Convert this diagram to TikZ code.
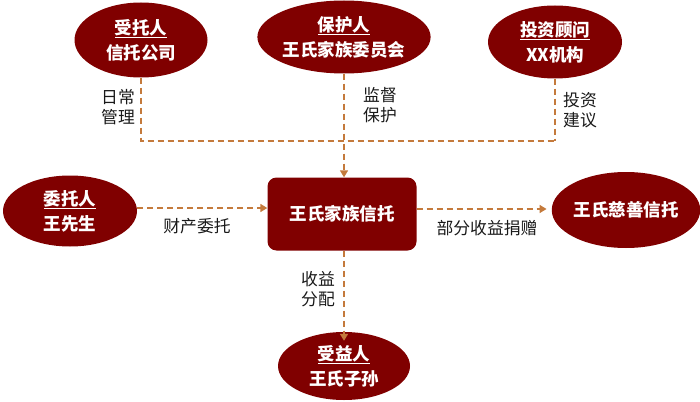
\documentclass[tikz,border=0pt]{standalone}
\usepackage{fontspec}
\setmainfont{Noto Sans CJK SC}
\usetikzlibrary{shapes.geometric,arrows.meta}
\definecolor{dred}{RGB}{128,0,0}
\definecolor{dorange}{RGB}{196,122,60}
\begin{document}
\begin{tikzpicture}[x=1pt,y=-1pt,
  ell/.style={ellipse, fill=dred, draw=none, text=white, inner sep=0pt,
    font=\bfseries\fontsize{17.5}{25}\selectfont, align=center},
  lbl/.style={text=black!90, font=\fontsize{16.8}{20}\selectfont, align=center, inner sep=0pt},
  conn/.style={draw=dorange, line width=1.6pt, dash pattern=on 6pt off 4pt},
  arr/.style={conn, -{Triangle[width=8pt,length=7pt]}}]
\useasboundingbox (0,0) rectangle (700,401);
% nodes
\node[ell, minimum width=133pt, minimum height=75pt] (sh) at (141,40) {\underline{受托人}\\信托公司};
\node[ell, minimum width=133pt, minimum height=73pt] (bh) at (344,37) {\underline{保护人}\\王氏家族委员会};
\node[ell, minimum width=134pt, minimum height=73pt] (tz) at (555,42) {\underline{投资顾问}\\XX机构};
\node[ell, minimum width=134pt, minimum height=71pt] (wt) at (70,211) {\underline{委托人}\\王先生};
\node[ell, minimum width=136pt, minimum height=76pt] (cs) at (626,210) {王氏慈善信托};
\node[ell, minimum width=132pt, minimum height=68pt] (sy) at (344,366) {\underline{受益人}\\王氏子孙};
\node[fill=dred, text=white, rounded corners=9pt, minimum width=149pt, minimum height=73pt,
  font=\bfseries\fontsize{17.5}{25}\selectfont, inner sep=0pt] (box) at (342,214) {王氏家族信托};
% junctions
\coordinate (j1) at (141,141);
\coordinate (j2) at (344,141);
\coordinate (j3) at (555,141);
% connectors
\draw[conn] (sh.south) -- (j1) -- (j3);
\draw[conn] (tz.south) -- (j3);
\draw[arr] (bh.south) -- (box.north -| bh.south);
\draw[arr] (wt.east |- 0,208) -- (box.west |- 0,208);
\draw[arr] (box.east |- 0,209) -- ([xshift=-5pt]cs.west |- 0,209);
\draw[arr] (box.south -| sy.north) -- ([yshift=-9pt]sy.north);
% labels
\node[lbl] (l1) at (118,107) {日常\\管理};
\node[lbl] (l2) at (380,105) {监督\\保护};
\node[lbl] (l3) at (580,110) {投资\\建议};
\node[lbl] (l4) at (197,226) {财产委托};
\node[lbl] (l5) at (487,228) {部分收益捐赠};
\node[lbl] (l6) at (318,289) {收益\\分配};
\end{tikzpicture}
\end{document}
